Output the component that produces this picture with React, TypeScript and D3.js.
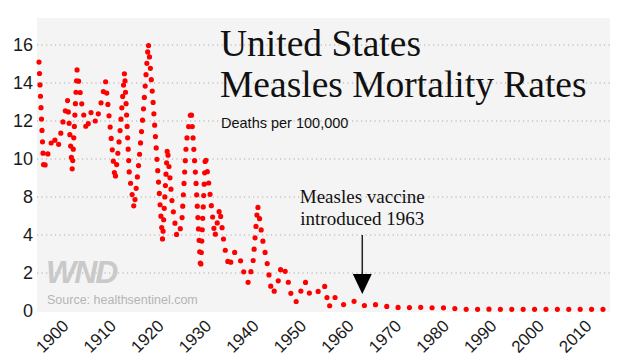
import React, { useRef, useEffect } from 'react';
import * as d3 from 'd3';

// 每年一个数值, 1895 - 2015
const startYear = 1895;
const endYear = 2015;
const rates: number[] = [
  15.1, 9.4, 10.4, 11.2, 10.6, 11.9, 13.1, 9.4, 14.7, 12.9, // 1895-1904
  11.5, 12.5, 11.9, 12.9, 14.1, 11.6, 8.9, 11.3, 14.6, 9.2, // 1905-1914
  6.8, 9.8, 12.7, 16.1, 13.0, 9.3, 3.7, 10.6, 7.4, 3.9, // 1915-1924
  5.0, 10.9, 12.6, 8.9, 2.2, 10.2, 8.1, 3.9, 6.8, 3.4, // 1925-1934
  2.3, 3.1, 3.0, 2.1, 1.5, 2.5, 7.1, 3.8, 2.5, 0.9, // 1935-1944
  1.2, 2.4, 2.0, 0.9, 0.45, 1.0, 1.55, 0.85, 0.85, 1.1, // 1945-1954
  1.4, 0.2, 0.75, 0.6, 0.33, 0.45, 0.54, 0.42, 0.28, 0.3, // 1955-1964
  0.37, 0.32, 0.26, 0.25, 0.2, 0.2, 0.18, 0.16, 0.18, 0.23, // 1965-1974
  0.2, 0.18, 0.17, 0.17, 0.17, 0.17, 0.16, 0.15, 0.1, 0.09, // 1975-1984
  0.09, 0.09, 0.09, 0.09, 0.09, 0.1, 0.1, 0.09, 0.09, 0.09, // 1985-1994
  0.09, 0.09, 0.09, 0.09, 0.09, 0.09, 0.09, 0.09, 0.09, 0.09, // 1995-2004
  0.09, 0.09, 0.09, 0.09, 0.09, 0.09, 0.09, 0.09, 0.09, 0.09, // 2005-2014
  0.09 // 2015
];
// 原图 y 轴少了 6, 刻度等距
const yTickValues = [0, 2, 4, 8, 10, 12, 14, 16];
const xTickYears = [1900, 1910, 1920, 1930, 1940, 1950, 1960, 1970, 1980, 1990, 2000, 2010];
const titleLines = ['United States', 'Measles Mortality Rates'];
const subtitle = 'Deaths per 100,000';
const noteLines = ['Measles vaccine', 'introduced 1963'];
const vaccineYear = 1963;
const source = 'Source: healthsentinel.com';

const WIDTH = 625;
const HEIGHT = 361;
const SANS = '"Liberation Sans", Arial, sans-serif';
const SERIF = '"Liberation Serif", "Times New Roman", serif';

function drawChart(svgEle: SVGSVGElement) {
  const svg = d3.select(svgEle);
  svg.selectAll('*').remove();

  const plot = { left: 37, right: 610, top: 18, bottom: 312 };
  const yBottom = 311;
  const yStep = 38;

  const data = rates.map((v, i) => ({ year: startYear + i, value: v }));

  const x = d3.scaleLinear().domain([startYear, endYear]).range([39, 609.5]);
  const y = d3
    .scaleLinear()
    .domain(yTickValues)
    .range(yTickValues.map((_, i) => yBottom - i * yStep));

  // 灰色底
  svg
    .append('rect')
    .attr('x', plot.left)
    .attr('y', plot.top)
    .attr('width', plot.right - plot.left)
    .attr('height', plot.bottom - plot.top)
    .attr('fill', '#f4f4f4');

  // 网格线
  svg
    .selectAll('line.grid')
    .data(yTickValues.filter((d) => d > 0))
    .enter()
    .append('line')
    .attr('class', 'grid')
    .attr('x1', plot.left)
    .attr('x2', plot.right)
    .attr('y1', (d) => y(d))
    .attr('y2', (d) => y(d))
    .attr('stroke', '#a8a8a8')
    .attr('stroke-width', 1)
    .attr('stroke-dasharray', '1.2 3.3');

  // y 轴文字
  svg
    .selectAll('text.ytick')
    .data(yTickValues)
    .enter()
    .append('text')
    .attr('class', 'ytick')
    .attr('x', 33)
    .attr('y', (d) => y(d))
    .attr('dy', '0.36em')
    .attr('text-anchor', 'end')
    .attr('font-family', SANS)
    .attr('font-size', 18)
    .attr('fill', '#1a1a1a')
    .text((d) => d);

  // x 轴文字, 斜 45 度
  svg
    .selectAll('text.xtick')
    .data(xTickYears)
    .enter()
    .append('text')
    .attr('class', 'xtick')
    .attr('transform', (d) => `translate(${x(d) + 7}, 327) rotate(-45)`)
    .attr('text-anchor', 'end')
    .attr('font-family', SANS)
    .attr('font-size', 17)
    .attr('fill', '#1a1a1a')
    .text((d) => d);

  // 水印
  svg
    .append('text')
    .attr('x', 46)
    .attr('y', 283)
    .attr('font-family', SANS)
    .attr('font-size', 32)
    .attr('font-weight', 'bold')
    .attr('font-style', 'italic')
    .attr('letter-spacing', -2)
    .attr('fill', '#c9c9c9')
    .text('WND');
  svg
    .append('text')
    .attr('x', 47)
    .attr('y', 304)
    .attr('font-family', SANS)
    .attr('font-size', 12.5)
    .attr('fill', '#b4b4b4')
    .text(source);

  // 标题
  svg
    .selectAll('text.title')
    .data(titleLines)
    .enter()
    .append('text')
    .attr('class', 'title')
    .attr('x', 220)
    .attr('y', (d, i) => 56 + i * 41)
    .attr('font-family', SERIF)
    .attr('font-size', 37.5)
    .attr('fill', '#111')
    .text((d) => d);
  svg
    .append('text')
    .attr('x', 221)
    .attr('y', 128)
    .attr('font-family', SANS)
    .attr('font-size', 14.5)
    .attr('fill', '#111')
    .text(subtitle);

  // 疫苗注释和箭头
  const ax = x(vaccineYear);
  svg
    .selectAll('text.note')
    .data(noteLines)
    .enter()
    .append('text')
    .attr('class', 'note')
    .attr('x', ax)
    .attr('y', (d, i) => 203 + i * 21.5)
    .attr('text-anchor', 'middle')
    .attr('font-family', SERIF)
    .attr('font-size', 19)
    .attr('fill', '#111')
    .text((d) => d);
  svg
    .append('line')
    .attr('x1', ax)
    .attr('x2', ax)
    .attr('y1', 235)
    .attr('y2', 276)
    .attr('stroke', '#222')
    .attr('stroke-width', 1.5);
  svg
    .append('path')
    .attr('d', `M${ax - 9.5},274L${ax + 9.5},274L${ax},294Z`)
    .attr('fill', '#000');

  // 红色点线
  const line = d3
    .line<{ year: number; value: number }>()
    .x((d) => x(d.year))
    .y((d) => y(d.value));
  svg
    .append('path')
    .datum(data)
    .attr('d', line)
    .attr('fill', 'none')
    .attr('stroke', '#ff0000')
    .attr('stroke-width', 5.2)
    .attr('stroke-linecap', 'round')
    .attr('stroke-dasharray', '0 11.4');
}

export default function App(): JSX.Element {
  const svgRef = useRef<SVGSVGElement>(null);

  useEffect(() => {
    const svgEle = svgRef.current;
    if (svgEle == null) {
      return;
    }
    drawChart(svgEle);
  }, []);

  return (
    <svg
      ref={svgRef}
      width={WIDTH}
      height={HEIGHT}
      style={{ position: 'absolute', left: 0, top: 0, background: '#fff' }}
    />
  );
}
